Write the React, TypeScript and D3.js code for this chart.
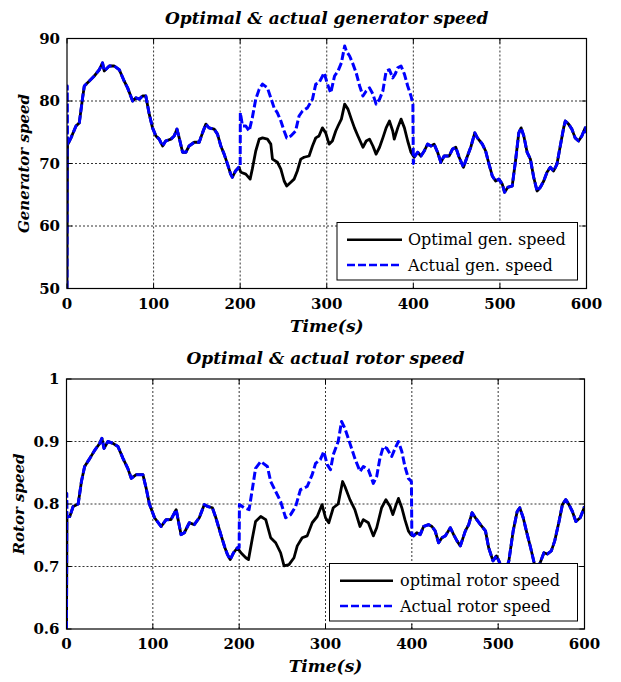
import * as d3 from "d3";

const timeTicks = [0, 100, 200, 300, 400, 500, 600];
const genTicks = [50, 60, 70, 80, 90];
const rotorTicks = [0.6, 0.7, 0.8, 0.9, 1];

// generator speed, t < 200 (optimal and actual overlap)
const genEarly: [number, number][] = [
  [0.6, 73], [4.6, 74.1], [10.4, 76], [14.2, 76.5], [18, 80.5], [20, 82.4], [25.8, 83.2], [31.5, 84],
  [37.3, 85], [41, 86.1], [43, 84.8], [48.8, 85.6], [54.6, 85.6], [60.4, 85], [66, 83.2], [70, 82.1],
  [75.8, 80], [79.6, 80.5], [83.5, 80.3], [87.3, 80.8], [91, 80.8], [95, 77.9], [98.8, 75.7],
  [102.7, 74.4], [106.5, 73.9], [110.4, 72.8], [114, 73.6], [120, 73.9], [123.8, 74.4], [127, 75.5],
  [129.6, 74.1], [133.5, 71.8], [137.3, 71.8], [141, 72.8], [147, 73.4], [152.7, 73.4], [156.5, 74.9],
  [160.4, 76.3], [164, 75.7], [170, 75.5], [173.8, 74.7], [177.7, 72.8], [181.5, 71.5], [185.4, 69.9],
  [189, 68.3], [191, 67.8], [194.6, 68.8], [198.5, 69.4],
];

// optimal generator speed, 200..400
const genOptimalMid: [number, number][] = [
  [200.8, 68.6], [206.5, 68.3], [211.5, 67.5], [214, 69.1], [218, 72], [222, 73.9], [225.8, 74.1],
  [231.5, 73.9], [235.4, 73.1], [237.3, 70.7], [243, 70.2], [247, 69.1], [250.8, 67.2], [253.8, 66.4],
  [258.5, 67], [262.3, 67.5], [266, 68.8], [270, 70.7], [273.8, 71], [279.6, 71.2], [283.5, 72.8],
  [287.3, 74.1], [291, 74.4], [295, 75.7], [298.8, 74.9], [302.7, 73.1], [306.5, 73.6], [310.4, 75.2],
  [313, 76], [316.9, 77.1], [320.7, 79.5], [324.5, 78.7], [328.4, 77.1], [332, 75.7], [336, 74.4],
  [341.8, 72.6], [345.6, 73.6], [349.4, 73.9], [353.3, 72.8], [357, 71.5], [361, 72.6], [364.8, 74.1],
  [368.6, 75.7], [372.4, 76.8], [376.2, 75.2], [378, 73.9], [382, 75.7], [385.8, 77.1], [389.7, 75.7],
  [393.5, 73.6], [397.3, 71.8], [400, 71.2],
];

// actual generator speed, 200..400
const genActualMid: [number, number][] = [
  [200, 69.4], [200.2, 78.1], [202.7, 76], [206.5, 76], [210.4, 75.2], [214, 77.3], [218, 80.3],
  [222, 81.9], [225.8, 82.7], [231.5, 82.1], [235.4, 80.5], [239.2, 78.9], [243, 78.1], [247, 76.8],
  [250.8, 75.2], [253.8, 74.1], [258.5, 74.4], [264, 75.2], [268, 77.6], [272, 78.4], [277.7, 78.9],
  [283.5, 80.3], [287.3, 82.7], [291, 82.9], [297, 84.5], [300.8, 82.7], [304.6, 81.3], [309, 84],
  [313, 84.8], [316.9, 86.1], [320.7, 88.8], [322.6, 88], [326.4, 87.2], [330.3, 85.9], [334, 84.5],
  [338, 82.4], [341.8, 80.8], [345.6, 81.6], [349.4, 82.1], [353.3, 81.1], [357, 79.5], [361, 80.3],
  [364.8, 81.6], [368.6, 84.8], [372.4, 85], [376.2, 83.7], [379, 84.3], [382, 85.3], [385.8, 85.6],
  [389.7, 84.3], [393.5, 82.4], [397.3, 80.8], [399.5, 79.5], [400, 70],
];

// generator speed, t > 400 (overlap again)
const genLate: [number, number][] = [
  [401, 71], [405, 71.8], [408.8, 71.2], [412.6, 72], [416.5, 73.1], [420.3, 72.8], [424, 73.1],
  [428, 71.8], [431.8, 70.2], [435.6, 71.2], [441.4, 71.2], [445.2, 72.3], [449, 72.6], [452.9, 71],
  [457.9, 69.4], [462.5, 71.2], [466.3, 72.6], [471, 74.9], [474, 74.1], [479.7, 73.1], [483.5, 72],
  [487.4, 69.9], [491.2, 68], [495, 67.2], [498.8, 67.5], [502.7, 66.7], [505.4, 65.4], [509.2, 66.2],
  [514.2, 66.4], [518, 70.4], [521.8, 74.9], [524.5, 75.7], [527.6, 74.4], [531.4, 71.8], [535.2, 70.7],
  [539, 67.8], [542.9, 65.6], [546.7, 66.2], [550.6, 67.2], [554.4, 68.6], [558.2, 69.4], [562, 68.8],
  [565.9, 69.9], [569.7, 72.8], [573.6, 75.7], [575.5, 76.8], [579.3, 76.3], [583.1, 75.5],
  [586.9, 74.1], [590.8, 73.6], [594.6, 74.4], [598.5, 75.7], [600, 74.9],
];

// rotor speed, t < 200
const rotorEarly: [number, number][] = [
  [0.6, 0.78], [3.8, 0.78], [7.7, 0.796], [13.5, 0.8], [17.3, 0.836], [21, 0.86], [27, 0.873],
  [32.7, 0.886], [38.5, 0.897], [41, 0.905], [43.5, 0.889], [48, 0.9], [53.8, 0.897], [59.6, 0.892],
  [65.4, 0.873], [71, 0.857], [75, 0.841], [80.8, 0.847], [88.5, 0.847], [92.3, 0.825], [96, 0.8],
  [102, 0.778], [109.6, 0.764], [115.4, 0.775], [121, 0.775], [127, 0.791], [132.7, 0.751],
  [136.5, 0.754], [142.3, 0.77], [148, 0.767], [153.8, 0.778], [159.6, 0.799], [163.5, 0.796],
  [169, 0.794], [173, 0.778], [178.8, 0.751], [183.5, 0.73], [186.5, 0.719], [189.6, 0.711],
  [193.5, 0.722], [198, 0.73],
];

const rotorOptimalMid: [number, number][] = [
  [202, 0.722], [207.7, 0.714], [210.8, 0.711], [215.4, 0.746], [219, 0.772], [225, 0.78],
  [230.8, 0.775], [236.5, 0.746], [242.3, 0.738], [248, 0.722], [252, 0.701], [257.7, 0.703],
  [263.5, 0.714], [267.3, 0.733], [273, 0.746], [278.8, 0.749], [284.6, 0.77], [290.4, 0.78],
  [296, 0.799], [300, 0.778], [303.8, 0.77], [309, 0.794], [314.7, 0.8], [319.8, 0.836], [322.5, 0.828],
  [328.3, 0.807], [334, 0.791], [340, 0.764], [343.8, 0.775], [349.6, 0.77], [355.4, 0.749],
  [359.3, 0.762], [365, 0.794], [370, 0.807], [374.8, 0.796], [378, 0.783], [381.8, 0.799],
  [384.5, 0.809], [388.4, 0.794], [392, 0.775], [396, 0.757], [399, 0.751],
];

const rotorActualMid: [number, number][] = [
  [200, 0.73], [200.3, 0.799], [205.8, 0.794], [211.5, 0.791], [215.4, 0.825], [219, 0.857],
  [225, 0.868], [232.7, 0.86], [236.5, 0.836], [242.3, 0.82], [248, 0.804], [253.8, 0.778],
  [259.6, 0.783], [265.4, 0.796], [271, 0.823], [278.8, 0.828], [284.6, 0.847], [288.5, 0.865],
  [294, 0.871], [298, 0.884], [302, 0.863], [305.8, 0.855], [309, 0.879], [314.7, 0.9], [318.6, 0.932],
  [322.5, 0.921], [328.3, 0.897], [334, 0.873], [340, 0.852], [343.8, 0.86], [349.6, 0.855],
  [355.4, 0.833], [359.3, 0.844], [363, 0.873], [367, 0.892], [371, 0.889], [376.7, 0.876],
  [380.6, 0.889], [384.5, 0.9], [388.4, 0.884], [392, 0.86], [396, 0.841], [399.5, 0.836], [400, 0.751],
];

const rotorLate: [number, number][] = [
  [402, 0.749], [405.8, 0.754], [409.7, 0.751], [413.6, 0.764], [419.4, 0.767], [423.3, 0.764],
  [427, 0.757], [431, 0.738], [434.9, 0.746], [438.8, 0.749], [444.6, 0.762], [448.4, 0.751],
  [452.3, 0.741], [456.2, 0.733], [462, 0.757], [465.9, 0.767], [469.8, 0.786], [473.6, 0.778],
  [479.5, 0.767], [485.3, 0.757], [489, 0.73], [494, 0.709], [498, 0.717], [500.8, 0.709],
  [504.7, 0.695], [508, 0.69], [512.4, 0.709], [517.4, 0.757], [522, 0.788], [525, 0.794], [529, 0.778],
  [533.7, 0.751], [537.6, 0.73], [542, 0.704], [547, 0.7], [553, 0.722], [557, 0.72], [561.6, 0.725],
  [565.5, 0.741], [570.5, 0.772], [574.4, 0.799], [578.3, 0.807], [582, 0.799], [586, 0.788],
  [590, 0.772], [595, 0.778], [598.8, 0.791], [600, 0.796],
];

const genOptimal: [number, number][] = [[0, 50], ...genEarly, ...genOptimalMid, ...genLate];
const genActual: [number, number][] = [[0, 50], [0.3, 82.4], ...genEarly, ...genActualMid, ...genLate];
const rotorOptimal: [number, number][] = [[0, 0.6], ...rotorEarly, ...rotorOptimalMid, ...rotorLate];
const rotorActual: [number, number][] = [[0, 0.6], [0.3, 0.817], ...rotorEarly, ...rotorActualMid, ...rotorLate];

const serif = "'DejaVu Serif', serif";

interface PanelProps {
  id: string;
  box: { left: number; right: number; top: number; bottom: number };
  yDomain: [number, number];
  yTicks: number[];
  yFormat: (v: number) => string;
  title: string;
  yLabel: string;
  yLabelX: number;
  optimal: [number, number][];
  actual: [number, number][];
  legend: { x: number; y: number; w: number; h: number; lineX0: number; lineX1: number; textX: number };
  legendLabels: [string, string];
}

function Panel(p: PanelProps) {
  const { left, right, top, bottom } = p.box;
  const x = d3.scaleLinear().domain([0, 600]).range([left, right]);
  const y = d3.scaleLinear().domain(p.yDomain).range([bottom, top]);
  const line = d3
    .line<[number, number]>()
    .x((d) => x(d[0]))
    .y((d) => y(d[1]));
  const cx = (left + right) / 2;
  const cy = (top + bottom) / 2;
  const lg = p.legend;

  return (
    <g>
      <defs>
        <clipPath id={p.id}>
          <rect x={left} y={top - 1} width={right - left} height={bottom - top + 2} />
        </clipPath>
      </defs>
      <rect x={left} y={top} width={right - left} height={bottom - top} fill="#fff" />
      {timeTicks.slice(1, -1).map((t) => (
        <line key={"gx" + t} x1={x(t)} x2={x(t)} y1={top} y2={bottom} stroke="#000" strokeWidth={0.8} strokeDasharray="2,2" />
      ))}
      {p.yTicks.slice(1, -1).map((v) => (
        <line key={"gy" + v} x1={left} x2={right} y1={y(v)} y2={y(v)} stroke="#000" strokeWidth={0.8} strokeDasharray="2,2" />
      ))}
      <g clipPath={`url(#${p.id})`}>
        <path d={line(p.optimal) ?? ""} fill="none" stroke="#000" strokeWidth={2.8} strokeLinejoin="round" />
        <path d={line(p.actual) ?? ""} fill="none" stroke="#0000ff" strokeWidth={3} strokeDasharray="8,3" strokeLinejoin="round" />
      </g>
      {timeTicks.map((t) => (
        <g key={"tx" + t}>
          <line x1={x(t)} x2={x(t)} y1={bottom} y2={bottom - 5} stroke="#000" />
          <line x1={x(t)} x2={x(t)} y1={top} y2={top + 5} stroke="#000" />
          <text x={x(t)} y={bottom + 20} textAnchor="middle" fontFamily={serif} fontWeight="bold" fontSize={15}>
            {t}
          </text>
        </g>
      ))}
      {p.yTicks.map((v) => (
        <g key={"ty" + v}>
          <line x1={left} x2={left + 5} y1={y(v)} y2={y(v)} stroke="#000" />
          <line x1={right} x2={right - 5} y1={y(v)} y2={y(v)} stroke="#000" />
          <text x={left - 7} y={y(v) + 5} textAnchor="end" fontFamily={serif} fontWeight="bold" fontSize={15}>
            {p.yFormat(v)}
          </text>
        </g>
      ))}
      <rect x={left} y={top} width={right - left} height={bottom - top} fill="none" stroke="#000" strokeWidth={1.2} />
      <text x={cx} y={top - 15} textAnchor="middle" fontFamily={serif} fontWeight="bold" fontStyle="italic" fontSize={17}>
        {p.title}
      </text>
      <text x={cx} y={bottom + 43} textAnchor="middle" fontFamily={serif} fontWeight="bold" fontStyle="italic" fontSize={17}>
        Time(s)
      </text>
      <text
        transform={`translate(${p.yLabelX},${cy}) rotate(-90)`}
        textAnchor="middle"
        fontFamily={serif}
        fontWeight="bold"
        fontStyle="italic"
        fontSize={15}
      >
        {p.yLabel}
      </text>
      <rect x={lg.x} y={lg.y} width={lg.w} height={lg.h} fill="#fff" stroke="#000" strokeWidth={1} />
      <line x1={lg.lineX0} x2={lg.lineX1} y1={lg.y + lg.h * 0.3} y2={lg.y + lg.h * 0.3} stroke="#000" strokeWidth={2.6} />
      <line
        x1={lg.lineX0}
        x2={lg.lineX1}
        y1={lg.y + lg.h * 0.74}
        y2={lg.y + lg.h * 0.74}
        stroke="#0000ff"
        strokeWidth={2.6}
        strokeDasharray="8,3"
      />
      <text x={lg.textX} y={lg.y + lg.h * 0.3 + 5.5} fontFamily={serif} fontSize={16}>
        {p.legendLabels[0]}
      </text>
      <text x={lg.textX} y={lg.y + lg.h * 0.74 + 5.5} fontFamily={serif} fontSize={16}>
        {p.legendLabels[1]}
      </text>
    </g>
  );
}

export default function App() {
  return (
    <div style={{ position: "absolute", left: 0, top: 0 }}>
      <svg width={621} height={682} style={{ display: "block", background: "#fff" }}>
        <Panel
          id="clipGen"
          box={{ left: 67, right: 586.5, top: 38.5, bottom: 288.5 }}
          yDomain={[50, 90]}
          yTicks={genTicks}
          yFormat={(v) => String(v)}
          title="Optimal & actual generator speed"
          yLabel="Generator speed"
          yLabelX={29}
          optimal={genOptimal}
          actual={genActual}
          legend={{ x: 337, y: 222.5, w: 240.5, h: 57.5, lineX0: 347, lineX1: 402, textX: 408 }}
          legendLabels={["Optimal gen. speed", "Actual gen. speed"]}
        />
        <Panel
          id="clipRotor"
          box={{ left: 66.5, right: 584.5, top: 379, bottom: 629 }}
          yDomain={[0.6, 1]}
          yTicks={rotorTicks}
          yFormat={(v) => (v === 1 ? "1" : d3.format(".1f")(v))}
          title="Optimal & actual rotor speed"
          yLabel="Rotor speed"
          yLabelX={24}
          optimal={rotorOptimal}
          actual={rotorActual}
          legend={{ x: 329.5, y: 563.5, w: 248, h: 57.5, lineX0: 340, lineX1: 393, textX: 400 }}
          legendLabels={["optimal rotor speed", "Actual rotor speed"]}
        />
      </svg>
    </div>
  );
}
